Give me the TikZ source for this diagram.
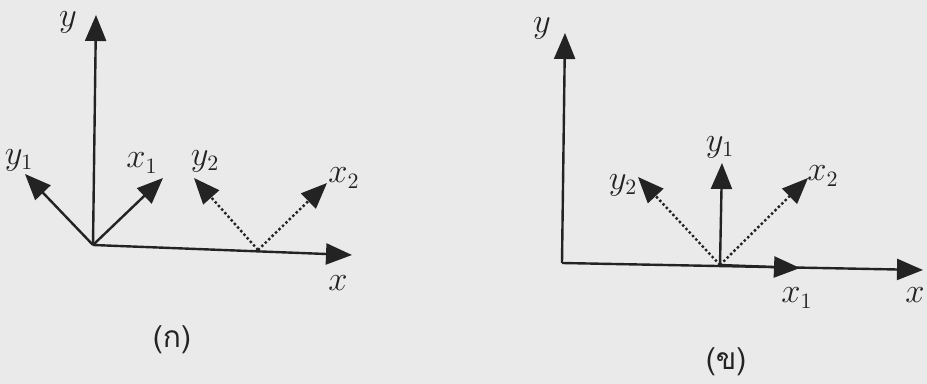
\documentclass[tikz,border=0pt]{standalone}
\usepackage{fontspec}
\newfontfamily\thaifont[Script=Thai]{Loma}
\usetikzlibrary{arrows.meta}
\definecolor{paper}{RGB}{234,234,234}
\definecolor{ink}{RGB}{35,35,35}

\begin{document}
\begin{tikzpicture}[
    x=0.5pt, y=-0.5pt,
    axis/.style={ink, line width=1.2pt, -{Triangle[length=13pt, width=10.5pt]}},
    moved/.style={axis, dash pattern=on 1.2pt off 1.2pt},
    lbl/.style={font=\fontsize{16}{18}\selectfont, text=ink, inner sep=0pt},
    caption/.style={font=\thaifont\fontsize{15}{18}\selectfont, text=ink, inner sep=0pt}
  ]
  \fill[paper] (0,0) rectangle (927,384);
  \useasboundingbox (0,0) rectangle (927,384);
  % (ก)
  \coordinate (oa) at (93,245);
  \coordinate (pa) at (258,250);
  \coordinate (ya) at (96,15);
  \coordinate (xa) at (352,255);
  \coordinate (ya1) at (25,174);
  \coordinate (xa1) at (163,178);
  \coordinate (ya2) at (194,178);
  \coordinate (xa2) at (327,183);
  \draw[axis] (oa) -- (ya);
  \draw[axis] (oa) -- (xa);
  \draw[axis] (oa) -- (ya1);
  \draw[axis] (oa) -- (xa1);
  \draw[moved] (pa) -- (ya2);
  \draw[moved] (pa) -- (xa2);
  \node[lbl] (lya) at (68,22) {$y$};
  \node[lbl] (lxa) at (338,283) {$x$};
  \node[lbl] (lya1) at (19,160) {$y_1$};
  \node[lbl] (lxa1) at (142,163) {$x_1$};
  \node[lbl] (lya2) at (205,161) {$y_2$};
  \node[lbl] (lxa2) at (344,178) {$x_2$};
  \node[caption] (capa) at (172,340) {(ก)};
  % (ข)
  \coordinate (ob) at (562,263);
  \coordinate (pb) at (720,265);
  \coordinate (yb) at (565,33);
  \coordinate (xb) at (923,270);
  \coordinate (xb1) at (800,268);
  \coordinate (yb1) at (722,163);
  \coordinate (yb2) at (638,177);
  \coordinate (xb2) at (808,178);
  \draw[axis] (ob) -- (yb);
  \draw[axis] (ob) -- (xb);
  \draw[axis] (pb) -- (xb1);
  \draw[axis] (pb) -- (yb1);
  \draw[moved] (pb) -- (yb2);
  \draw[moved] (pb) -- (xb2);
  \node[lbl] (lyb) at (542,28) {$y$};
  \node[lbl] (lxb) at (915,295) {$x$};
  \node[lbl] (lxb1) at (797,298) {$x_1$};
  \node[lbl] (lyb1) at (720,147) {$y_1$};
  \node[lbl] (lyb2) at (623,185) {$y_2$};
  \node[lbl] (lxb2) at (823,176) {$x_2$};
  \node[caption] (capb) at (726,362) {(ข)};
\end{tikzpicture}
\end{document}
